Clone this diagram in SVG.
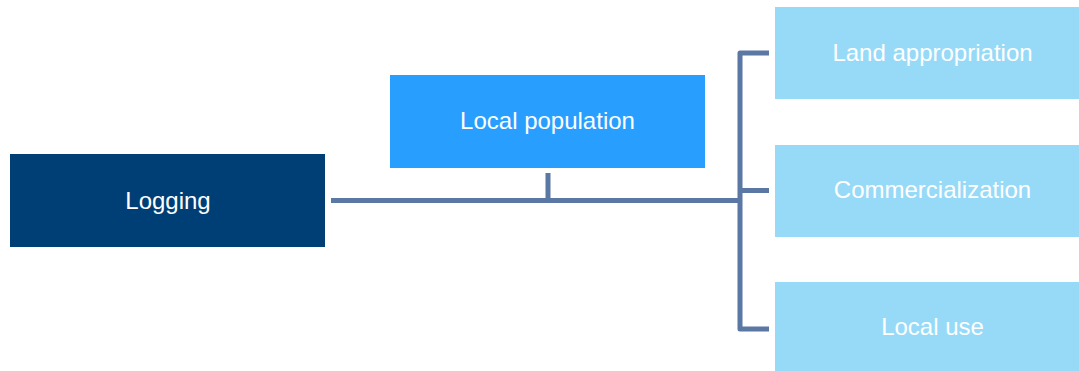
<svg xmlns="http://www.w3.org/2000/svg" width="1079" height="371" viewBox="0 0 1079 371">
<style>
.t{font-family:"Liberation Sans",Arial,sans-serif;font-size:24px;fill:#ffffff;text-anchor:middle}
.c{fill:none;stroke:#5B77A3;stroke-width:5;stroke-linejoin:round}
</style>
<rect width="1079" height="371" fill="#ffffff"/>
<g id="connectors">
<path class="c" d="M331 200.5H740"/>
<path class="c" d="M548 173V200.5"/>
<path class="c" d="M769 53H740V329H769"/>
<path class="c" d="M740 190.5H769"/>
</g>
<g id="logging">
<rect x="10" y="154" width="315" height="93" fill="#003F75"/>
<text class="t" x="168" y="209">Logging</text>
</g>
<g id="local-population">
<rect x="390" y="75" width="315" height="93" fill="#289EFF"/>
<text class="t" x="547.5" y="129">Local population</text>
</g>
<g id="land-appropriation">
<rect x="775" y="7" width="315" height="92" fill="#97DAF8"/>
<text class="t" x="932.5" y="61">Land appropriation</text>
</g>
<g id="commercialization">
<rect x="775" y="145" width="315" height="92" fill="#97DAF8"/>
<text class="t" x="932.5" y="198">Commercialization</text>
</g>
<g id="local-use">
<rect x="775" y="282" width="315" height="92" fill="#97DAF8"/>
<text class="t" x="932.5" y="335">Local use</text>
</g>
</svg>
